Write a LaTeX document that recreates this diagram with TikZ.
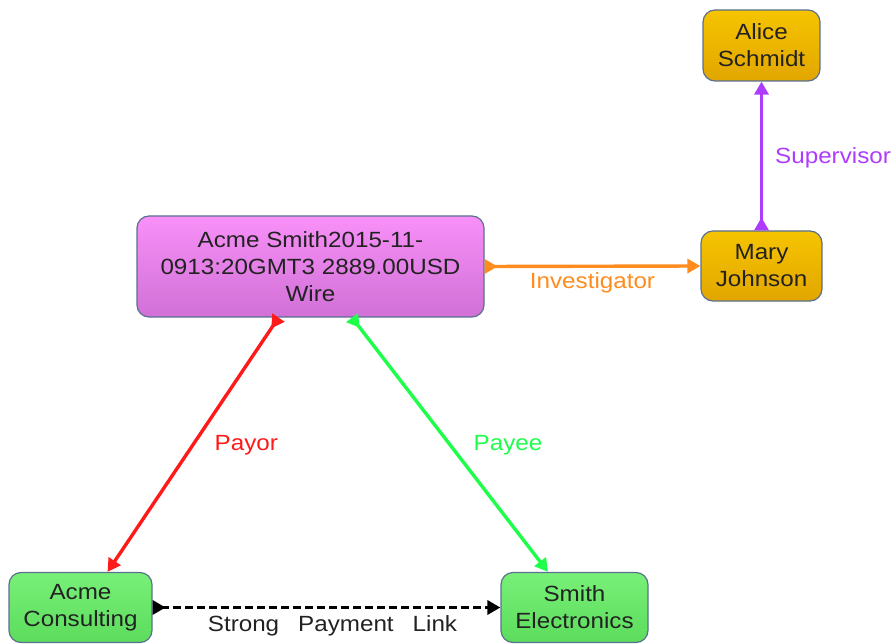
\documentclass[tikz,border=0pt]{standalone}
\usepackage{fontspec}
\setmainfont{Liberation Sans}[FakeStretch=1.1]
\usetikzlibrary{arrows.meta,calc}
\definecolor{nodeborder}{HTML}{5A7090}
\definecolor{pinktop}{HTML}{F890F8}
\definecolor{pinkbot}{HTML}{D070D6}
\definecolor{goldtop}{HTML}{F6C400}
\definecolor{goldbot}{HTML}{E2A600}
\definecolor{greentop}{HTML}{78F078}
\definecolor{greenbot}{HTML}{5CDC5C}
\definecolor{txtdark}{HTML}{222222}
\definecolor{cOrange}{HTML}{FF8C1E}
\definecolor{cPurple}{HTML}{AE3CFF}
\definecolor{cRed}{HTML}{FF1A1A}
\definecolor{cGreen}{HTML}{1EFF4A}
\tikzset{
  box/.style={draw=nodeborder, line width=1.2pt, rounded corners=12pt, align=center,
    inner sep=0pt, text=txtdark, font=\fontsize{22}{27}\selectfont},
  pinkbox/.style={box, top color=pinktop, bottom color=pinkbot},
  goldbox/.style={box, top color=goldtop, bottom color=goldbot},
  greenbox/.style={box, top color=greentop, bottom color=greenbot},
  link/.style={line width=3.4pt, {Triangle[reversed,length=13pt,width=14pt]}-{Triangle[length=13pt,width=14pt]}},
  lbl/.style={font=\fontsize{22}{27}\selectfont, inner sep=0pt}
}
\begin{document}
\begin{tikzpicture}[x=1pt,y=-1pt]
\useasboundingbox (0,0) rectangle (893,644);
\node[pinkbox, minimum width=347pt, minimum height=101pt] (main) at (310.5,266.5)
  {Acme Smith2015-11-\\0913:20GMT3 2889.00USD\\Wire};
\node[goldbox, minimum width=121pt, minimum height=70pt] (mary) at (761.5,266) {Mary\\Johnson};
\node[goldbox, minimum width=117pt, minimum height=71pt] (alice) at (761.5,45.5) {Alice\\Schmidt};
\node[greenbox, minimum width=143pt, minimum height=70pt] (acme) at (80.5,607.5) {Acme\\Consulting};
\node[greenbox, minimum width=147pt, minimum height=70pt] (smith) at (574.5,607.5) {Smith\\Electronics};

\draw[link, cOrange] (main.east) -- (mary.west)
  node[lbl, midway, below=5pt, text=cOrange] {Investigator};
\draw[link, cPurple] (mary.north) -- (alice.south)
  node[lbl, midway, right=12pt, yshift=-2pt, text=cPurple] {Supervisor};
\draw[link, cRed] ([xshift=-32pt]main.south) -- ([xshift=27pt]acme.north)
  node[lbl, midway, right=20pt, text=cRed] {Payor};
\draw[link, cGreen] ([xshift=41.5pt]main.south) -- ([xshift=-26.5pt]smith.north)
  node[lbl, midway, right=22pt, text=cGreen] {Payee};
\draw[link, black, dash pattern=on 8pt off 4pt] (acme.east) -- (smith.west)
  node[lbl, midway, below=6pt, text=txtdark, xshift=6pt] {Strong\hspace{19pt}Payment\hspace{19pt}Link};
\end{tikzpicture}
\end{document}
